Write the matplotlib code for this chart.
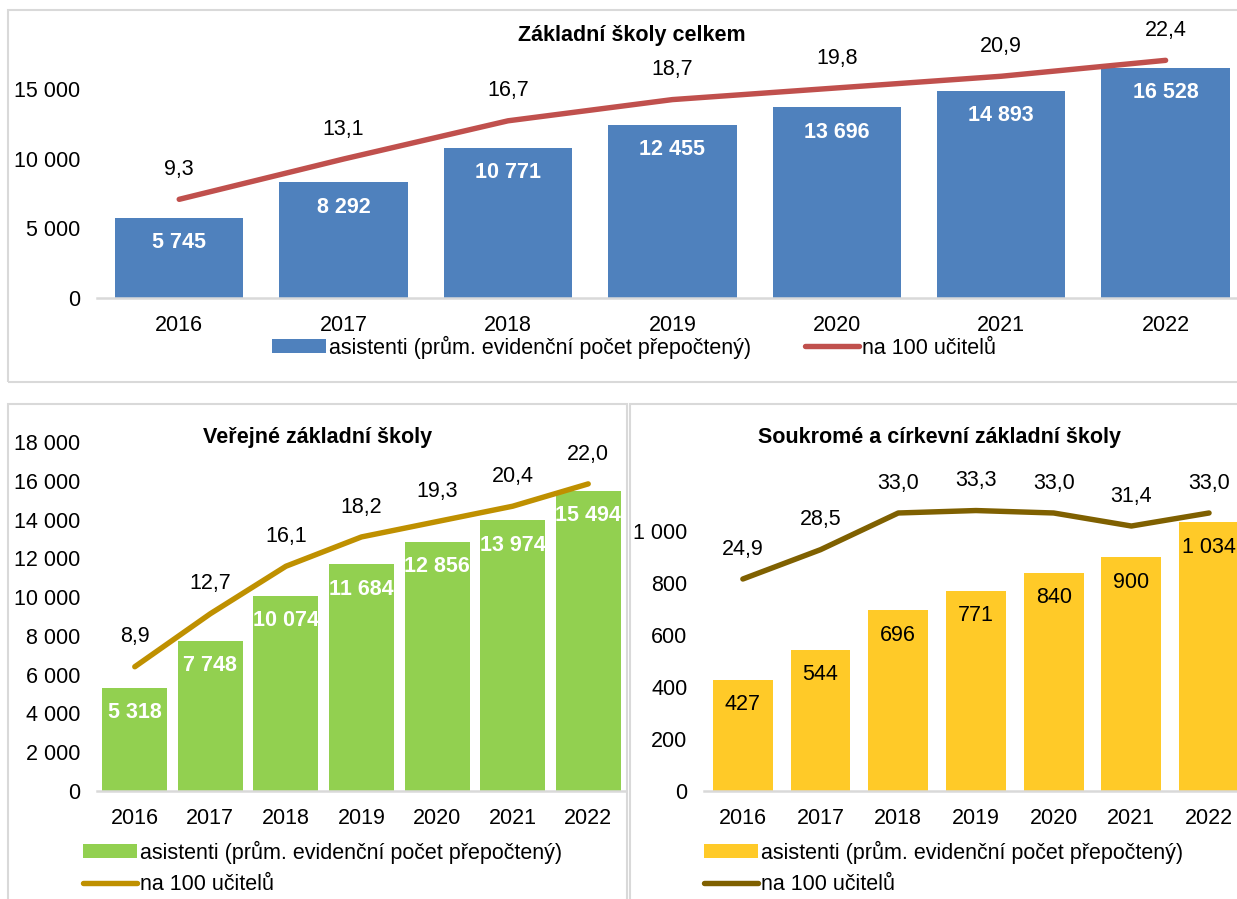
import matplotlib
matplotlib.use('Agg')
import matplotlib.pyplot as plt
from matplotlib.patches import Rectangle

plt.rcParams['font.family'] = ['Liberation Sans', 'DejaVu Sans']

# data
roky = ['2016', '2017', '2018', '2019', '2020', '2021', '2022']

celkem_asist = [5745, 8292, 10771, 12455, 13696, 14893, 16528]
celkem_na100 = [9.3, 13.1, 16.7, 18.7, 19.8, 20.9, 22.4]

verejne_asist = [5318, 7748, 10074, 11684, 12856, 13974, 15494]
verejne_na100 = [8.9, 12.7, 16.1, 18.2, 19.3, 20.4, 22.0]

soukr_asist = [427, 544, 696, 771, 840, 900, 1034]
soukr_na100 = [24.9, 28.5, 33.0, 33.3, 33.0, 31.4, 33.0]

leg_bar = 'asistenti (prům. evidenční počet přepočtený)'
leg_line = 'na 100 učitelů'

W, H = 1237, 899
FS = 15.5
fig = plt.figure(figsize=(W / 100, H / 100), dpi=100)


def px_axes(left, right, top, bottom):
    return fig.add_axes([left / W, 1 - bottom / H, (right - left) / W, (bottom - top) / H])


def thous(v):
    return f"{v:,}".replace(",", " ")


def panel(rect, xlim, bars, line, ylim, y2lim, yticks, bar_w, bar_col, line_col,
          lab_col, lab_weight):
    ax = px_axes(*rect)
    x = list(range(len(roky)))
    b = ax.bar(x, bars, width=bar_w, color=bar_col, label=leg_bar, zorder=2)
    ax.set_xlim(*xlim)
    ax.set_ylim(*ylim)
    ax.set_yticks(yticks)
    ax.set_yticklabels([thous(t) for t in yticks])
    ax.set_xticks(x)
    ax.set_xticklabels(roky)
    ax.tick_params(length=0, labelsize=FS)
    ax.tick_params(axis='y', pad=12)
    ax.tick_params(axis='x', pad=12)
    for s in ['top', 'right', 'left']:
        ax.spines[s].set_visible(False)
    ax.spines['bottom'].set_color('#D9D9D9')
    ax.spines['bottom'].set_linewidth(1.8)
    ax.patch.set_alpha(0)
    for xi, v in zip(x, bars):
        ax.annotate(thous(v), (xi, v), xytext=(0, -18), textcoords='offset points',
                    ha='center', va='center', fontsize=FS, color=lab_col,
                    fontweight=lab_weight, zorder=5)

    ax2 = ax.twinx()
    ln, = ax2.plot(x, line, color=line_col, lw=3.9, solid_capstyle='round',
                   solid_joinstyle='round', label=leg_line, zorder=3)
    ax2.set_ylim(*y2lim)
    ax2.set_yticks([])
    for s in ax2.spines.values():
        s.set_visible(False)
    for xi, v in zip(x, line):
        ax2.annotate(f"{v:.1f}".replace(".", ","), (xi, v), xytext=(0, 21.5),
                     textcoords='offset points', ha='center', va='center',
                     fontsize=FS, color='black')
    return ax, b, ln


# frames
for (l, t, r, bt) in [(8, 10, 1250, 382), (8, 404, 627, 920), (630, 404, 1250, 920)]:
    fig.patches.append(Rectangle((l / W, 1 - bt / H), (r - l) / W, (bt - t) / H,
                                 transform=fig.transFigure, fill=False,
                                 edgecolor='#D9D9D9', lw=1.5))

# top panel
sp = 164.4
ax, b, ln = panel((97, 1237, 47, 298), (-0.5, -0.5 + 1140 / sp), celkem_asist, celkem_na100,
                  (0, 251 / 0.01393), (0, 251 / 10.61), [0, 5000, 10000, 15000],
                  0.78, '#4F81BD', '#C0504D', 'white', 'bold')
fig.text(632 / W, 1 - 35 / H, 'Základní školy celkem', ha='center', va='center',
         fontsize=FS, fontweight='bold')
fig.legend([b, ln], [leg_bar, leg_line], loc='center left', ncol=2,
           bbox_to_anchor=(272 / W, 1 - 347 / H), frameon=False, fontsize=FS,
           handlelength=2.5, handleheight=0.6, handletextpad=0.15, columnspacing=2.5,
           borderpad=0, borderaxespad=0)

# bottom left
ax, b, ln = panel((97, 626, 442, 791), (-0.5, 6.5), verejne_asist, verejne_na100,
                  (0, 18000), (0, 25), list(range(0, 18001, 2000)),
                  0.86, '#92D050', '#BF9000', 'white', 'bold')
fig.text(318 / W, 1 - 437 / H, 'Veřejné základní školy', ha='center', va='center',
         fontsize=FS, fontweight='bold')
fig.legend([b, ln], [leg_bar, leg_line], loc='center left', ncol=1,
           bbox_to_anchor=(83 / W, 1 - 868 / H), frameon=False, fontsize=FS,
           handlelength=2.5, handleheight=0.6, handletextpad=0.15, labelspacing=0.5,
           borderpad=0, borderaxespad=0)

# bottom right
sp2 = 77.7
s_scale = 8.15
ax, b, ln = panel((704, 1237, 442, 791), (-0.5, -0.5 + 533 / sp2), soukr_asist, soukr_na100,
                  (0, 349 / 0.26), (24.9 - 212 / s_scale, 24.9 + 137 / s_scale),
                  list(range(0, 1001, 200)),
                  0.77, '#FFCA28', '#7F6000', 'black', 'normal')
fig.text(939 / W, 1 - 437 / H, 'Soukromé a církevní základní školy', ha='center',
         va='center', fontsize=FS, fontweight='bold')
fig.legend([b, ln], [leg_bar, leg_line], loc='center left', ncol=1,
           bbox_to_anchor=(704 / W, 1 - 868 / H), frameon=False, fontsize=FS,
           handlelength=2.5, handleheight=0.6, handletextpad=0.15, labelspacing=0.5,
           borderpad=0, borderaxespad=0)

fig.savefig('out.png', dpi=100)
